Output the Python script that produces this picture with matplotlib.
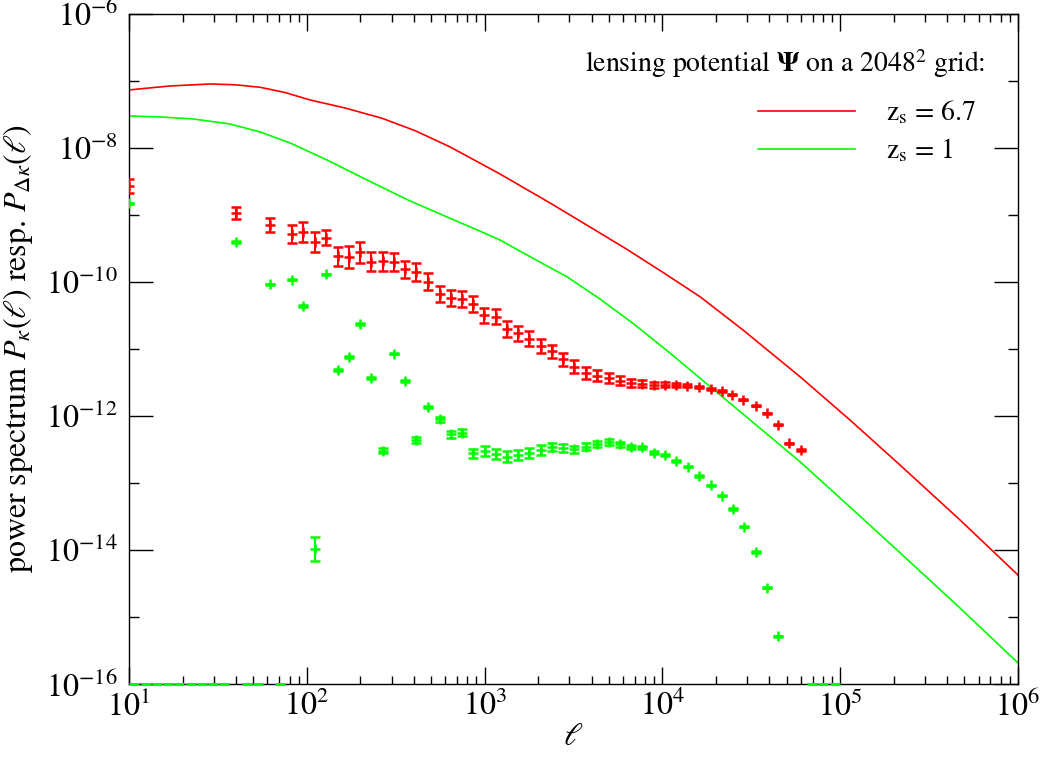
import matplotlib
matplotlib.use("Agg")
import numpy as np
import matplotlib.pyplot as plt
from matplotlib.ticker import LogLocator, NullFormatter

plt.rcParams['font.family'] = 'STIXGeneral'
plt.rcParams['mathtext.fontset'] = 'stix'
plt.rcParams['axes.unicode_minus'] = False

# --- theory curves (lensing potential on a 2048^2 grid) ---
curve_red_ell = [10, 17.0, 28.6, 39.5, 54.6, 75.4, 104.2, 164, 265, 406, 639,
                 1221, 2333, 3916, 6405, 10210, 16270, 28410, 59420, 113500,
                 216900, 471900, 1e6]
curve_red_P = [7.28e-8, 8.34e-8, 8.93e-8, 8.70e-8, 7.98e-8, 6.67e-8, 5.16e-8,
               3.92e-8, 2.75e-8, 1.80e-8, 1.03e-8, 4.06e-9, 1.50e-9, 6.57e-10,
               2.98e-10, 1.35e-10, 6.00e-11, 1.91e-11, 3.84e-12, 8.68e-13,
               1.85e-13, 2.80e-14, 4.23e-15]

curve_green_ell = [10, 14.9, 22.9, 37.0, 54.6, 80.4, 129.9, 212.5, 371, 639, 883,
                   1221, 1541, 2187, 2906, 4457, 6833, 11030, 18520, 33180,
                   59420, 113500, 216900, 471900, 1e6]
curve_green_P = [2.98e-8, 2.88e-8, 2.69e-8, 2.26e-8, 1.72e-8, 1.18e-8, 6.57e-9,
                 3.42e-9, 1.66e-9, 8.86e-10, 6.14e-10, 4.21e-10, 2.98e-10,
                 1.79e-10, 1.19e-10, 5.54e-11, 2.40e-11, 8.67e-12, 2.74e-12,
                 7.56e-13, 2.07e-13, 4.37e-14, 9.09e-15, 1.36e-15, 2.06e-16]

# --- measured spectra (with relative errors) ---
red_ell = [10, 39.8, 62.1, 82.8, 95.7, 111, 129, 149, 173, 199, 231, 267, 309,
           358, 414, 481, 558, 645, 744, 861, 998, 1153, 1336, 1541, 1784, 2084,
           2404, 2773, 3185, 3720, 4305, 4989, 5754, 6658, 7709, 8972, 10350,
           11940, 13810, 16070, 18710, 21580, 24760, 28540, 33650, 38760,
           44870, 51760, 59980]
red_P = [2.69e-9, 1.07e-9, 7.06e-10, 5.12e-10, 5.54e-10, 3.93e-10, 4.58e-10,
         2.40e-10, 2.32e-10, 2.74e-10, 2.00e-10, 2.02e-10, 1.98e-10, 1.55e-10,
         1.39e-10, 1.01e-10, 6.58e-11, 5.79e-11, 5.54e-11, 4.62e-11, 3.16e-11,
         3.02e-11, 1.98e-11, 1.71e-11, 1.42e-11, 1.09e-11, 9.19e-12, 6.98e-12,
         5.42e-12, 4.36e-12, 3.97e-12, 3.64e-12, 3.35e-12, 3.13e-12, 3.02e-12,
         2.89e-12, 2.89e-12, 2.86e-12, 2.82e-12, 2.70e-12, 2.54e-12, 2.35e-12,
         2.07e-12, 1.73e-12, 1.42e-12, 1.09e-12, 7.38e-13, 3.90e-13, 3.10e-13]
red_rel = [0.29, 0.23, 0.285, 0.36, 0.395, 0.39, 0.29, 0.395, 0.45, 0.45, 0.377,
           0.377, 0.36, 0.34, 0.35, 0.35, 0.31, 0.316, 0.316, 0.326, 0.29, 0.30,
           0.30, 0.285, 0.29, 0.27, 0.26, 0.24, 0.24, 0.21, 0.20, 0.18, 0.155,
           0.147, 0.12, 0.11, 0.09, 0.07, 0.05, 0.04, 0.03, 0.02, 0.02, 0.02,
           0.02, 0.02, 0.02, 0.02, 0.02]

green_ell = [10, 39.9, 61.9, 82.6, 95.7, 111, 128, 149, 173, 199, 231, 267, 308,
             358, 414, 482, 558, 645, 743, 861, 1002, 1153, 1336, 1541, 1784,
             2084, 2404, 2773, 3185, 3720, 4305, 4996, 5781, 6690, 7727, 8972,
             10380, 11990, 13870, 16100, 18710, 21600, 24950, 28900, 33500,
             38760, 44870]
green_P = [1.48e-9, 3.93e-10, 9.18e-11, 1.08e-10, 4.36e-11, 1.03e-14, 1.29e-10,
           4.79e-12, 7.55e-12, 2.35e-11, 3.67e-12, 3.02e-13, 8.43e-12, 3.35e-12,
           4.34e-13, 1.34e-12, 8.89e-13, 5.31e-13, 5.61e-13, 2.77e-13, 2.99e-13,
           2.67e-13, 2.46e-13, 2.58e-13, 2.77e-13, 3.10e-13, 3.47e-13, 3.32e-13,
           3.17e-13, 3.47e-13, 3.80e-13, 4.05e-13, 3.77e-13, 3.47e-13, 3.40e-13,
           2.84e-13, 2.59e-13, 2.14e-13, 1.75e-13, 1.27e-13, 9.21e-14, 6.42e-14,
           4.08e-14, 2.22e-14, 9.31e-15, 2.73e-15, 5.15e-16]
green_rel = [0.02, 0.02, 0.02, 0.02, 0.02, 0.51, 0.02, 0.03, 0.02, 0.02, 0.02,
             0.08, 0.02, 0.03, 0.12, 0.03, 0.08, 0.12, 0.12, 0.175, 0.19, 0.19,
             0.21, 0.19, 0.19, 0.17, 0.15, 0.13, 0.13, 0.12, 0.11, 0.11, 0.09,
             0.07, 0.06, 0.05, 0.03, 0.03, 0.03, 0.02, 0.02, 0.02, 0.02, 0.02,
             0.02, 0.02, 0.02]

# bins with zero power (drawn on the lower axis)
green_zero_ell = [10.7, 12.4, 14.4, 16.6, 19.2, 22.2, 25.6, 29.7, 34.3, 46.0,
                  53.2, 71.1, 69340, 80500, 93500]

RED = '#ff0000'
GREEN = '#00ff00'
YMIN, YMAX = 1e-16, 1e-6

fig = plt.figure(figsize=(10.47, 7.59), dpi=100)
ax = fig.add_axes([0.1232, 0.0988, 0.8491, 0.8832])


def errbars(ell, P, rel, color):
    P = np.array(P)
    rel = np.array(rel)
    lo = P - P / (1 + rel)
    hi = P * rel
    ax.errorbar(ell, P, yerr=[lo, hi], fmt='+', color=color, ms=7, mew=1.8,
                elinewidth=1.5, capsize=3.5, capthick=1.5, zorder=3)


errbars(red_ell, red_P, red_rel, RED)
errbars(green_ell, green_P, green_rel, GREEN)

ax.plot(green_zero_ell, [YMIN] * len(green_zero_ell), ls='none', marker='_',
        ms=7, mew=2.2, color=GREEN, clip_on=False, zorder=4)

ax.plot(curve_red_ell, curve_red_P, color=RED, lw=1.2, label=r'z$_\mathrm{s}$ = 6.7')
ax.plot(curve_green_ell, curve_green_P, color=GREEN, lw=1.2, label=r'z$_\mathrm{s}$ = 1')

ax.set_xscale('log')
ax.set_yscale('log')
ax.set_xlim(10, 1e6)
ax.set_ylim(YMIN, YMAX)

ax.yaxis.set_major_locator(LogLocator(base=100))
ax.yaxis.set_minor_locator(LogLocator(base=100, subs=[10]))
ax.yaxis.set_minor_formatter(NullFormatter())
ax.xaxis.set_minor_formatter(NullFormatter())

ax.tick_params(which='both', direction='in', top=True, right=True,
               labelsize=23, width=1.0)
ax.tick_params(axis='x', which='major', length=12, pad=5)
ax.tick_params(axis='x', which='minor', length=6)
ax.tick_params(axis='y', which='major', length=17, pad=8)
ax.tick_params(axis='y', which='minor', length=7)
for s in ax.spines.values():
    s.set_linewidth(1.0)

ax.set_xlabel(r'$\ell$', fontsize=23, labelpad=0)
ax.set_ylabel(r'power spectrum $P_\kappa(\ell)$ resp. $P_{\Delta\kappa}(\ell)$',
              fontsize=23, labelpad=8)

ax.text(0.963, 0.9135, r'lensing potential $\mathbf{\Psi}$ on a 2048$^2$ grid:',
        transform=ax.transAxes, ha='right', va='baseline', fontsize=20)
ax.legend(loc='upper right', bbox_to_anchor=(0.952, 0.8725), frameon=False,
          fontsize=20, borderpad=0, borderaxespad=0,
          handlelength=3.5, handletextpad=1.1, labelspacing=0.38)

fig.savefig('out.png', dpi=100)
